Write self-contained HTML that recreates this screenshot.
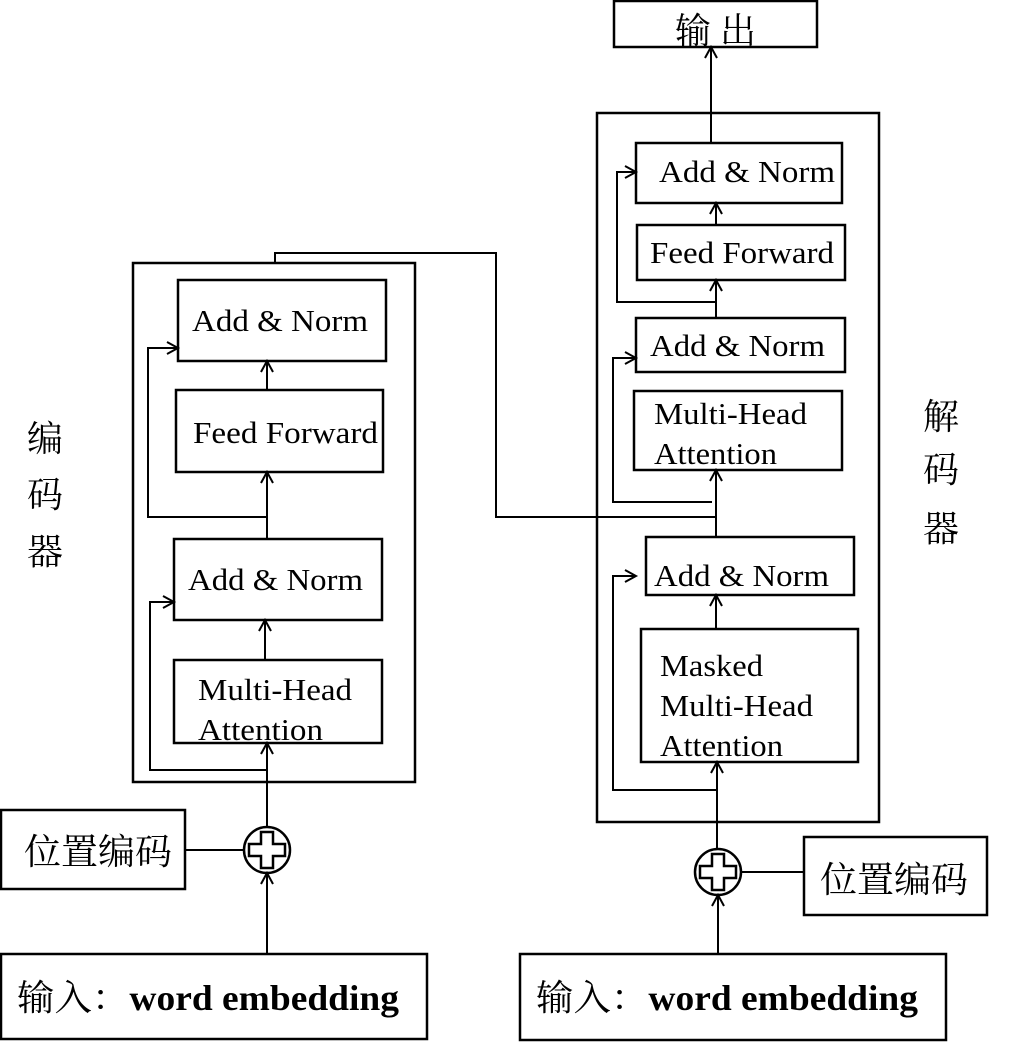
<!DOCTYPE html>
<html><head><meta charset="utf-8"><style>
body{margin:0;background:#fff}
text{font-family:"Liberation Serif","Noto Serif CJK SC",serif;fill:#000}
.c{font-family:"Liberation Serif","Noto Serif CJK SC","Noto Sans CJK SC",serif}
</style></head><body>
<svg width="1027" height="1042" viewBox="0 0 1027 1042" xmlns="http://www.w3.org/2000/svg">
<defs><marker id="a" markerWidth="16" markerHeight="16" refX="12" refY="7" orient="auto" markerUnits="userSpaceOnUse"><path d="M1,1 L12,7 L1,13" fill="none" stroke="#000" stroke-width="2"/></marker></defs>
<g fill="none" stroke="#000" stroke-width="2.5">
<rect x="133" y="263" width="282" height="519"/>
<rect x="178" y="280" width="208" height="81"/>
<rect x="176" y="390" width="207" height="82"/>
<rect x="174" y="539" width="208" height="81"/>
<rect x="174" y="660" width="208" height="83"/>
<rect x="1" y="810" width="184" height="79"/>
<rect x="1" y="954" width="426" height="85"/>
<circle cx="267" cy="850" r="23"/>
<rect x="597" y="113" width="282" height="709"/>
<rect x="614" y="1" width="203" height="46"/>
<rect x="636" y="143" width="206" height="60"/>
<rect x="637" y="225" width="208" height="55"/>
<rect x="636" y="318" width="209" height="54"/>
<rect x="634" y="391" width="208" height="79"/>
<rect x="646" y="537" width="208" height="58"/>
<rect x="641" y="629" width="217" height="133"/>
<rect x="804" y="837" width="183" height="78"/>
<rect x="520" y="954" width="426" height="86"/>
<circle cx="718" cy="872" r="23"/>
</g>
<g fill="none" stroke="#000" stroke-width="2.5">
<path d="M261,832 h12 v12 h12 v12 h-12 v12 h-12 v-12 h-12 v-12 h12z"/>
<path d="M712,854 h12 v12 h12 v12 h-12 v12 h-12 v-12 h-12 v-12 h12z"/>
</g>
<g fill="none" stroke="#000" stroke-width="2">
<path d="M275,263 V253 H496 V517 H717"/>
<path d="M267,390 V361" marker-end="url(#a)"/>
<path d="M267,539 V472" marker-end="url(#a)"/>
<path d="M267,517 H148 V348 H178" marker-end="url(#a)"/>
<path d="M265,660 V620" marker-end="url(#a)"/>
<path d="M267,827 V743" marker-end="url(#a)"/>
<path d="M267,770 H150 V602 H174" marker-end="url(#a)"/>
<path d="M185,850 H244"/>
<path d="M267,954 V873" marker-end="url(#a)"/>
<path d="M711,143 V47" marker-end="url(#a)"/>
<path d="M716,225 V203" marker-end="url(#a)"/>
<path d="M716,318 V280" marker-end="url(#a)"/>
<path d="M716,302 H617 V172 H636" marker-end="url(#a)"/>
<path d="M716,537 V470" marker-end="url(#a)"/>
<path d="M712,502 H613 V358 H636" marker-end="url(#a)"/>
<path d="M716,629 V595" marker-end="url(#a)"/>
<path d="M717,849 V762" marker-end="url(#a)"/>
<path d="M717,790 H613 V576 H636" marker-end="url(#a)"/>
<path d="M741,872 H804"/>
<path d="M718,954 V895" marker-end="url(#a)"/>
</g>
<g font-size="31">
<text x="192" y="331" textLength="176" lengthAdjust="spacingAndGlyphs">Add &amp; Norm</text>
<text x="193" y="443" textLength="185" lengthAdjust="spacingAndGlyphs">Feed Forward</text>
<text x="188" y="590" textLength="175" lengthAdjust="spacingAndGlyphs">Add &amp; Norm</text>
<text x="198" y="700" textLength="154" lengthAdjust="spacingAndGlyphs">Multi-Head</text>
<text x="198" y="740" textLength="125" lengthAdjust="spacingAndGlyphs">Attention</text>
<text x="659" y="182" textLength="176" lengthAdjust="spacingAndGlyphs">Add &amp; Norm</text>
<text x="650" y="263" textLength="184" lengthAdjust="spacingAndGlyphs">Feed Forward</text>
<text x="650" y="356" textLength="175" lengthAdjust="spacingAndGlyphs">Add &amp; Norm</text>
<text x="654" y="424" textLength="153" lengthAdjust="spacingAndGlyphs">Multi-Head</text>
<text x="654" y="464" textLength="123" lengthAdjust="spacingAndGlyphs">Attention</text>
<text x="654" y="586" textLength="175" lengthAdjust="spacingAndGlyphs">Add &amp; Norm</text>
<text x="660" y="676" textLength="103" lengthAdjust="spacingAndGlyphs">Masked</text>
<text x="660" y="716" textLength="153" lengthAdjust="spacingAndGlyphs">Multi-Head</text>
<text x="660" y="756" textLength="123" lengthAdjust="spacingAndGlyphs">Attention</text>
</g>
<g font-size="36" class="c">
<text x="675" y="43" class="c">输 出</text>
<text x="24" y="864" class="c" textLength="148" lengthAdjust="spacingAndGlyphs">位置编码</text>
<text x="820" y="892" class="c" textLength="148" lengthAdjust="spacingAndGlyphs">位置编码</text>
<text x="27" y="451" class="c">编</text>
<text x="27" y="507" class="c">码</text>
<text x="27" y="564" class="c">器</text>
<text x="923" y="429" class="c">解</text>
<text x="923" y="482" class="c">码</text>
<text x="923" y="541" class="c">器</text>
<text x="17" y="1010" class="c" textLength="382" lengthAdjust="spacingAndGlyphs">输入：<tspan font-weight="bold">word embedding</tspan></text>
<text x="536" y="1010" class="c" textLength="382" lengthAdjust="spacingAndGlyphs">输入：<tspan font-weight="bold">word embedding</tspan></text>
</g>
</svg>
</body></html>
